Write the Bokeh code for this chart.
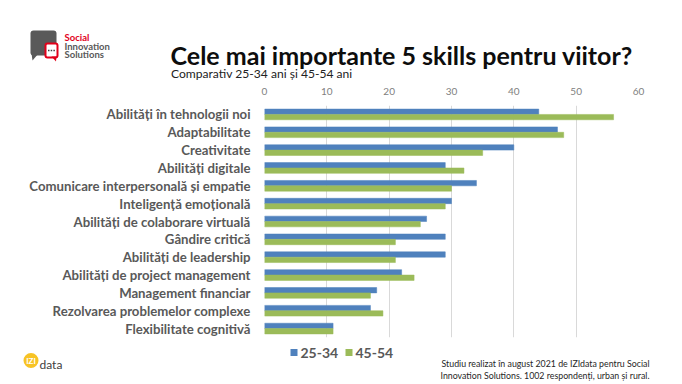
import math
from bokeh.plotting import figure
from bokeh.layouts import column
from bokeh.models import (Range1d, FactorRange, ColumnDataSource, LinearAxis, FixedTicker)
from bokeh.core.properties import value
from bokeh.transform import dodge
from bokeh.embed import file_html
from bokeh.resources import INLINE

# ---------------- data ----------------
categories = ["Abilități în tehnologii noi", "Adaptabilitate", "Creativitate",
              "Abilități digitale", "Comunicare interpersonală și empatie",
              "Inteligență emoțională", "Abilități de colaborare virtuală",
              "Gândire critică", "Abilități de leadership",
              "Abilități de project management", "Management financiar",
              "Rezolvarea problemelor complexe", "Flexibilitate cognitivă"]
v_25_34 = [44, 47, 40, 29, 34, 30, 26, 29, 29, 22, 18, 17, 11]
v_45_54 = [56, 48, 35, 32, 30, 29, 25, 21, 21, 24, 17, 19, 11]
series_names = ["25-34", "45-54"]
x_ticks = [0, 10, 20, 30, 40, 50, 60]

title_text = "Cele mai importante 5 skills pentru viitor?"
subtitle_text = "Comparativ 25-34 ani și 45-54 ani"
note_lines = ["Studiu realizat în august 2021 de IZIdata pentru Social",
              "Innovation Solutions. 1002 respondenți, urban și rural."]
logo_lines = ["Social", "Innovation", "Solutions"]

BLUE = "#4F81BD"
GREEN = "#9BBB59"
series_colors = [BLUE, GREEN]
LABEL_GREY = "#595959"
RED = "#E2001A"
FONT = value("Lato")

W = 682
H_HEAD, H_MAIN, H_FOOT = 84, 257, 43


def deco_figure(h, y_top):
    """A blank figure whose data space equals page pixels (y grows downward)."""
    f = figure(width=W, height=h, output_backend="svg", toolbar_location=None,
               x_range=Range1d(0, W), y_range=Range1d(y_top + h, y_top),
               x_axis_location=None, y_axis_location=None, title=None,
               min_border=0, min_border_left=0, min_border_right=0,
               min_border_top=0, min_border_bottom=0, frame_align=False)
    f.outline_line_color = None
    f.xgrid.visible = False
    f.ygrid.visible = False
    f.background_fill_color = "white"
    f.border_fill_color = "white"
    return f


# ---------------- header ----------------
head = deco_figure(H_HEAD, 0)
# speech-bubble logo
head.quad(left=[30], right=[56], top=[30], bottom=[55], fill_color="#595959",
          line_color=None, border_radius=3)
head.patch(x=[31, 38, 32], y=[53, 53, 60], fill_color="#595959", line_color=None)
head.quad(left=[45], right=[57], top=[43], bottom=[57], fill_color="white",
          line_color=RED, line_width=2, border_radius=2)
head.patch(x=[51, 56, 55.5], y=[56, 56, 61], fill_color=RED, line_color=None)
head.quad(left=[47.5, 50.2, 52.9], right=[49, 51.7, 54.4], top=[49.3] * 3,
          bottom=[50.8] * 3, fill_color="#404040", line_color=None)
head.text(x=[64, 64, 64], y=[37, 45.7, 54.2], text=logo_lines,
          text_color=[RED, LABEL_GREY, LABEL_GREY], text_font=FONT,
          text_font_style="bold", text_font_size="9.5px", text_baseline="alphabetic")
head.text(x=[170], y=[54.3], text=[title_text], text_font=FONT, text_font_style="bold",
          text_font_size="25px", text_color="#0D0D0D", text_baseline="alphabetic")
head.text(x=[170.5], y=[72.6], text=[subtitle_text], text_font=FONT,
          text_font_size="12.1px", text_color="#222222", text_baseline="alphabetic")

# ---------------- main chart ----------------
src = ColumnDataSource(dict(cat=categories, a=v_25_34, b=v_45_54))
p = figure(width=W, height=H_MAIN, output_backend="svg", toolbar_location=None,
           x_range=Range1d(0, 60),
           y_range=FactorRange(factors=list(reversed(categories)), range_padding=0),
           x_axis_location=None, title=None, frame_align=False,
           min_border_left=264, min_border_right=44, min_border_top=20, min_border_bottom=4)
p.outline_line_color = None
p.background_fill_color = "white"
p.border_fill_color = "white"

p.hbar(y=dodge("cat", 0.15, range=p.y_range), right="a", left=0, height=0.3,
       source=src, fill_color=BLUE, line_color=BLUE, line_width=0.5)
p.hbar(y=dodge("cat", -0.15, range=p.y_range), right="b", left=0, height=0.3,
       source=src, fill_color=GREEN, line_color=GREEN, line_width=0.5)

xax = LinearAxis(ticker=FixedTicker(ticks=x_ticks))
xax.axis_line_color = None
xax.major_tick_line_color = None
xax.minor_tick_line_color = None
xax.major_label_text_font = "Lato"
xax.major_label_text_font_size = "10px"
xax.major_label_text_color = "#808080"
xax.major_label_standoff = 5
p.add_layout(xax, "above")

p.xgrid.ticker = FixedTicker(ticks=x_ticks)
p.xgrid.grid_line_color = "#D9D9D9"
p.ygrid.grid_line_color = None

yax = p.yaxis[0]
yax.axis_line_color = None
yax.major_tick_line_color = None
yax.minor_tick_line_color = None
yax.major_label_text_font = "Lato"
yax.major_label_text_font_style = "bold"
yax.major_label_text_font_size = "13.2px"
yax.major_label_text_color = LABEL_GREY
yax.major_label_standoff = 8

# ---------------- footer ----------------
foot = deco_figure(H_FOOT, H_HEAD + H_MAIN)
# legend
leg_x = [290, 345]
foot.quad(left=leg_x, right=[v + 7 for v in leg_x], top=[348.5] * 2, bottom=[355.5] * 2,
          fill_color=series_colors, line_color=None)
foot.text(x=[v + 10 for v in leg_x], y=[352.5] * 2, text=series_names, text_font=FONT,
          text_font_style="bold", text_font_size="14px", text_color=LABEL_GREY,
          text_baseline="middle")
# footnote
foot.text(x=[441, 440], y=[362.7, 375], text=note_lines, text_font=FONT,
          text_font_size="8.8px", text_color="#262626", text_baseline="alphabetic")
# IZIdata logo
foot.ellipse(x=[30.5], y=[360], width=15, height=15, fill_color="#F7C325", line_color=None)
foot.text(x=[30.5], y=[360.5], text=["IZI"], text_font=FONT, text_font_style="bold",
          text_font_size="8px", text_color="white", text_align="center",
          text_baseline="middle")
foot.text(x=[39], y=[363.5], text=["data"], text_font=FONT, text_font_size="12px",
          text_color="#404040", text_baseline="alphabetic")

layout = column(head, p, foot, spacing=0)
open("out.html", "w").write(file_html(layout, INLINE))
